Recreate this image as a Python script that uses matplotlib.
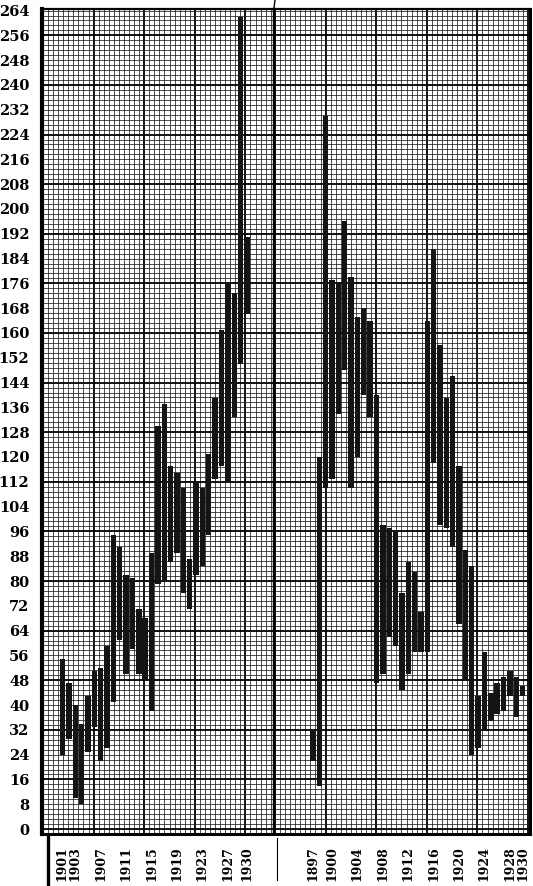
import matplotlib
matplotlib.use("Agg")
import matplotlib.pyplot as plt
from matplotlib.ticker import MultipleLocator
from matplotlib.lines import Line2D

# Panel izquierdo: 1901-1930 (minimo y maximo de cada año)
anios_a = list(range(1901, 1931))
bajo_a = [24, 29, 10, 8, 25, 33, 22, 26, 41, 61, 50, 58, 50, 48, 38,
          79, 80, 86, 89, 76, 71, 82, 85, 95, 113, 117, 112, 133, 150, 166]
alto_a = [55, 47, 40, 34, 43, 51, 52, 59, 95, 91, 82, 81, 71, 68, 89,
          130, 137, 117, 115, 110, 87, 112, 110, 121, 139, 161, 176, 173, 262, 191]

# Panel derecho: 1897-1930
anios_b = list(range(1897, 1931))
bajo_b = [22, 14, 110, 113, 134, 148, 110, 120, 140, 133, 47, 50, 62, 59, 45,
          50, 57, 57, 57, 118, 98, 97, 91, 66, 48, 24, 26, 32, 35, 37, 38, 43, 36, 43]
alto_b = [32, 120, 230, 177, 176, 196, 178, 165, 168, 164, 140, 98, 97, 96, 76,
          86, 83, 70, 164, 187, 156, 139, 146, 117, 90, 85, 43, 57, 44, 47, 49, 51, 49, 46]

ticks_a = [1901, 1903, 1907, 1911, 1915, 1919, 1923, 1927, 1930]
ticks_b = [1897, 1900, 1904, 1908, 1912, 1916, 1920, 1924, 1928, 1930]
ticks_y = list(range(0, 265, 8))

W, H = 533, 886
Y0, Y1 = -1.6, 264.5
fuente_y = dict(family="DejaVu Serif", weight="bold", size=10.5)
fuente_x = dict(family="DejaVu Serif", weight="bold", size=9)

fig = plt.figure(figsize=(W / 100, H / 100), dpi=100)


def caja(x0, x1, y0=9, y1=834):
    return fig.add_axes([x0 / W, 1 - y1 / H, (x1 - x0) / W, (y1 - y0) / H])


def papel(x0, x1, c0, c1):
    # papel milimetrado de fondo
    g = caja(x0, x1)
    g.set_xlim(c0, c1)
    g.set_ylim(Y0, Y1)
    g.xaxis.set_major_locator(MultipleLocator(10))
    g.xaxis.set_minor_locator(MultipleLocator(1))
    g.yaxis.set_major_locator(MultipleLocator(16))
    g.yaxis.set_minor_locator(MultipleLocator(1.6))
    g.grid(which="minor", color="#1e1e1e", lw=0.55)
    g.grid(which="major", color="#000000", lw=1.3)
    g.tick_params(which="both", length=0, labelbottom=False, labelleft=False)
    for s in g.spines.values():
        s.set_visible(False)
    return g


def barras(x0, x1, anios, bajo, alto, xlim, ticks):
    ax = caja(x0, x1)
    ax.patch.set_visible(False)
    alturas = [a - b for a, b in zip(alto, bajo)]
    ax.bar(anios, alturas, bottom=bajo, width=0.85, color="#141414", linewidth=0)
    ax.set_xlim(*xlim)
    ax.set_ylim(Y0, Y1)
    ax.set_xticks(ticks)
    ax.set_xticklabels([str(t) for t in ticks], rotation=90, va="top", ha="center", **fuente_x)
    ax.tick_params(axis="x", length=0, pad=9)
    for s in ax.spines.values():
        s.set_color("black")
    ax.spines["bottom"].set_linewidth(2.2)
    ax.spines["top"].set_linewidth(1.6)
    return ax


papel(42, 274, -0.2, 45.65)
papel(274, 530, -0.2, 50.4)

ax1 = barras(42, 274, anios_a, bajo_a, alto_a, (1897.78, 1934.25), ticks_a)
ax1.set_yticks(ticks_y)
ax1.set_yticklabels([str(t) for t in ticks_y], **fuente_y)
ax1.tick_params(axis="y", length=0, pad=9)
ax1.spines["left"].set_linewidth(3)
ax1.spines["right"].set_linewidth(1.6)

ax2 = barras(274, 530, anios_b, bajo_b, alto_b, (1890.86, 1931.17), ticks_b)
ax2.set_yticks([])
ax2.spines["left"].set_linewidth(1.6)
ax2.spines["right"].set_linewidth(2.2)

# trazos sueltos del original
fig.add_artist(Line2D([48 / W, 48 / W], [0, 1 - 836 / H], lw=2.4, color="black"))
fig.add_artist(Line2D([277 / W, 277 / W], [1 - 880 / H, 1 - 838 / H], lw=0.8, color="black"))
fig.add_artist(Line2D([274 / W, 275 / W], [1 - 8 / H, 1.0], lw=1.0, color="black"))

fig.savefig("out.png", dpi=100)
